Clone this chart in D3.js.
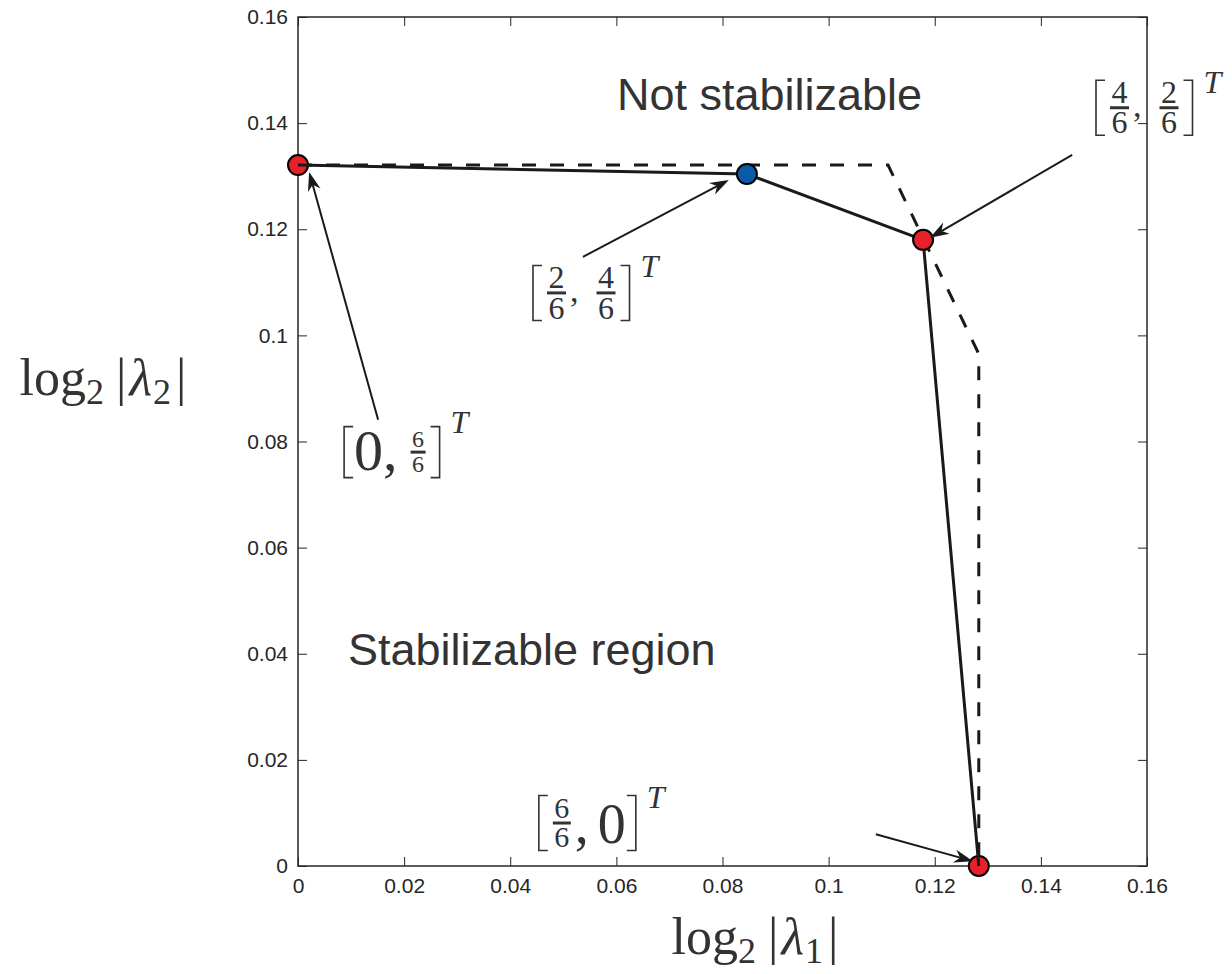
<!DOCTYPE html>
<html><head>
<meta charset="utf-8">
<title>Stabilizable region</title>
<script src="https://cdn.jsdelivr.net/npm/d3@7/dist/d3.min.js"></script>
<style>
  body { margin: 0; background: #fff; }
  .tick text { font-family: "Liberation Sans", Arial, sans-serif; font-size: 21px; fill: #262626; }
  .tick line { stroke: #262626; stroke-width: 1; }
  .region-label { font-family: "Liberation Sans", Arial, sans-serif; font-size: 45px; fill: #333; }
  .math { font-family: "Liberation Serif", "DejaVu Serif", serif; fill: #333; }
</style>
</head>
<body>
<svg id="chart" width="1232" height="974"></svg>

<script>
// ---- data ----
var tickValues = [0, 0.02, 0.04, 0.06, 0.08, 0.1, 0.12, 0.14, 0.16];
var tickLabels = ["0", "0.02", "0.04", "0.06", "0.08", "0.1", "0.12", "0.14", "0.16"];

// solid curve through the achievable points
var pointX = [0, 0.0846, 0.1178, 0.1283];
var pointY = [0.1321, 0.1304, 0.1180, 0];
var pointColor = ["#e8202a", "#0a5aa8", "#e8202a", "#e8202a"];

// dashed bound
var boundX = [0, 0.1112, 0.1283, 0.1283];
var boundY = [0.1321, 0.1321, 0.0965, 0];

// arrows (start -> tip), data units
var arrowX1 = [0.0151, 0.0537, 0.1459, 0.1089];
var arrowY1 = [0.0841, 0.1148, 0.1340, 0.0060];
var arrowX2 = [0.0021, 0.0812, 0.1191, 0.1272];
var arrowY2 = [0.1308, 0.1293, 0.1184, 0.0009];

// vector labels: [a/6, b/6]^T
var vecX = [0.0085, 0.0441, 0.1502, 0.0452];   // left edge of bracket
var vecY = [0.0780, 0.1080, 0.1429, 0.0081];   // fraction bar level
var vecItems = [
  [{big: "0"}, {comma: 1}, {num: "6", den: "6"}],
  [{num: "2", den: "6"}, {comma: 1}, {num: "4", den: "6"}],
  [{num: "4", den: "6"}, {comma: 1}, {num: "2", den: "6"}],
  [{num: "6", den: "6"}, {comma: 1}, {big: "0"}]
];

var regionText = ["Not stabilizable", "Stabilizable region"];
var regionX = [0.0601, 0.0094];
var regionY = [0.1425, 0.0379];

// ---- layout ----
var svg = d3.select("#chart");
var L = 298, T = 17, S = 849;

var xScale = d3.scaleLinear().domain([0, 0.16]).range([L, L + S]);
var yScale = d3.scaleLinear().domain([0, 0.16]).range([T + S, T]);

function fmt(d) { return tickLabels[tickValues.indexOf(d)]; }

svg.append("g").attr("transform", "translate(0," + (T + S) + ")")
  .call(d3.axisBottom(xScale).tickValues(tickValues).tickFormat(fmt).tickSizeInner(-9).tickSizeOuter(0).tickPadding(12));
svg.append("g").attr("transform", "translate(" + L + ",0)")
  .call(d3.axisLeft(yScale).tickValues(tickValues).tickFormat(fmt).tickSizeInner(-9).tickSizeOuter(0).tickPadding(10));
svg.append("g").attr("transform", "translate(0," + T + ")")
  .call(d3.axisTop(xScale).tickValues(tickValues).tickFormat("").tickSizeInner(-9).tickSizeOuter(0));
svg.append("g").attr("transform", "translate(" + (L + S) + ",0)")
  .call(d3.axisRight(yScale).tickValues(tickValues).tickFormat("").tickSizeInner(-9).tickSizeOuter(0));
svg.selectAll(".domain").remove();

svg.append("rect")
  .attr("x", L).attr("y", T).attr("width", S).attr("height", S)
  .attr("fill", "none").attr("stroke", "#262626").attr("stroke-width", 1.5);

var line = d3.line().x(function(d) { return xScale(d[0]); }).y(function(d) { return yScale(d[1]); });

svg.append("path")
  .attr("d", line(d3.zip(boundX, boundY)))
  .attr("fill", "none").attr("stroke", "#1a1a1a").attr("stroke-width", 3)
  .attr("stroke-dasharray", "14,14");

function marker(i) {
  svg.append("circle")
    .attr("cx", xScale(pointX[i])).attr("cy", yScale(pointY[i])).attr("r", 10)
    .attr("fill", pointColor[i]).attr("stroke", "#000").attr("stroke-width", 2);
}

// end markers sit under the line, inner ones on top
marker(0); marker(3);
svg.append("path")
  .attr("d", line(d3.zip(pointX, pointY)))
  .attr("fill", "none").attr("stroke", "#1a1a1a").attr("stroke-width", 3)
  .attr("stroke-linejoin", "round");
marker(1); marker(2);

// arrows
arrowX1.forEach(function(_, i) {
  var x1 = xScale(arrowX1[i]), y1 = yScale(arrowY1[i]);
  var x2 = xScale(arrowX2[i]), y2 = yScale(arrowY2[i]);
  var a = Math.atan2(y2 - y1, x2 - x1);
  var len = 19, w = 6.5;
  var g = svg.append("g")
    .attr("transform", "translate(" + x2 + "," + y2 + ") rotate(" + (a * 180 / Math.PI) + ")");
  var d = Math.hypot(x2 - x1, y2 - y1);
  g.append("line").attr("x1", -d).attr("y1", 0).attr("x2", -len * 0.7).attr("y2", 0)
    .attr("stroke", "#1a1a1a").attr("stroke-width", 2);
  g.append("path").attr("d", "M0,0 L" + (-len) + "," + w + " L" + (-len * 0.7) + ",0 L" + (-len) + "," + (-w) + "Z")
    .attr("fill", "#1a1a1a");
});

// vector labels
var vecFrac = [24, 32, 32, 30];      // fraction digit size
var vecBig = [58, 34, 34, 56];       // base text size
var vecBase = [18, 9, 9, 20];        // baseline below the bar
var vecCommaSp = [9, 14, 14, 9];
var vecBrH = [51, 55, 55, 55];
var vecTOff = [6, 12, 13, 12];

function mtext(x, y, s, fs, anchor) {
  return svg.append("text").attr("class", "math")
    .attr("x", x).attr("y", y).attr("text-anchor", anchor || "start")
    .style("font-size", fs + "px").text(s);
}

function bracket(x, top, h, open) {
  var arm = 10;
  var p = open
    ? "M" + (x + arm) + "," + top + " H" + (x + 1) + " V" + (top + h) + " H" + (x + arm)
    : "M" + (x - arm) + "," + top + " H" + (x - 1) + " V" + (top + h) + " H" + (x - arm);
  svg.append("path").attr("d", p).attr("fill", "none").attr("stroke", "#333").attr("stroke-width", 1.6);
}

vecItems.forEach(function(items, k) {
  var x0 = xScale(vecX[k]), bar = yScale(vecY[k]);
  var top = bar - vecBrH[k] / 2;
  bracket(x0, top, vecBrH[k], true);
  var cur = x0 + 11;
  items.forEach(function(it) {
    if (it.num !== undefined) {
      var ff = vecFrac[k];
      var n = mtext(0, bar - 5, it.num, ff, "middle");
      var dn = mtext(0, bar + 4 + ff * 0.68, it.den, ff, "middle");
      var w = Math.max(n.node().getComputedTextLength(), dn.node().getComputedTextLength()) + 3;
      var cx = cur + 4 + w / 2;
      n.attr("x", cx); dn.attr("x", cx);
      svg.append("line").attr("x1", cur + 4).attr("x2", cur + 4 + w)
        .attr("y1", bar).attr("y2", bar).attr("stroke", "#333").attr("stroke-width", 3);
      cur += w + 8;
    } else if (it.comma) {
      var c = mtext(cur, bar + vecBase[k], ",", vecBig[k]);
      cur += c.node().getComputedTextLength() + vecCommaSp[k];
    } else {
      var b = mtext(cur, bar + vecBase[k], it.big, vecBig[k]);
      cur += b.node().getComputedTextLength();
    }
  });
  bracket(cur + 11, top, vecBrH[k], false);
  mtext(cur + 11 + 10, top + vecTOff[k], "T", 32).style("font-style", "italic");
});

// region labels
regionText.forEach(function(s, i) {
  svg.append("text").attr("class", "region-label")
    .attr("x", xScale(regionX[i])).attr("y", yScale(regionY[i])).text(s);
});

// axis titles
function axisTitle(x, y, sub) {
  var t = svg.append("text").attr("class", "math").attr("x", x).attr("y", y)
    .attr("text-anchor", "middle").style("font-size", "52px");
  t.append("tspan").text("log");
  t.append("tspan").attr("dy", 9).style("font-size", "36px").text("2");
  t.append("tspan").attr("dy", -9).attr("dx", 12).text("|");
  t.append("tspan").attr("dx", 3).style("font-style", "italic").text("λ");
  t.append("tspan").attr("dy", 9).attr("dx", 1).style("font-size", "36px").text(sub);
  t.append("tspan").attr("dy", -9).attr("dx", 5).text("|");
  return t;
}
axisTitle(103, 395, "2");
axisTitle(755, 954, "1");
</script>
</body>
</html>
